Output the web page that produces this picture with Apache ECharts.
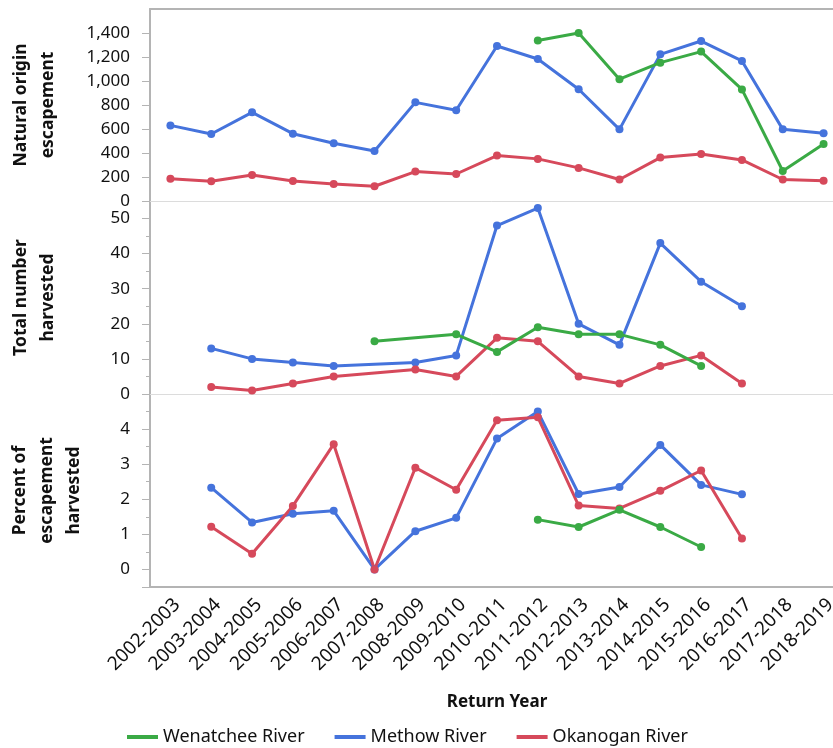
<!DOCTYPE html>
<html lang="en" style="height:100%">
<head>
    <meta charset="UTF-8">
    <title>Return Year harvest</title>
</head>
<body style="height: 100%; margin: 0; background: #fff">
<div id="container" style="width: 833px; height: 748px"></div>
<script type="text/javascript" src="https://cdn.jsdelivr.net/npm/echarts@6/dist/echarts.min.js"></script>
<script type="text/javascript">

    var years = ['2002-2003', '2003-2004', '2004-2005', '2005-2006', '2006-2007', '2007-2008',
        '2008-2009', '2009-2010', '2010-2011', '2011-2012', '2012-2013', '2013-2014',
        '2014-2015', '2015-2016', '2016-2017', '2017-2018', '2018-2019'];

    var rivers = ['Wenatchee River', 'Methow River', 'Okanogan River'];
    var colors = ['#3aaa45', '#4573dc', '#d6495b'];

    // Natural origin escapement
    var escWenatchee = [null, null, null, null, null, null, null, null, null, 1338, 1400, 1015, 1153, 1245, 930, 250, 476];
    var escMethow = [630, 558, 739, 561, 481, 417, 822, 756, 1292, 1183, 931, 597, 1222, 1333, 1167, 597, 564];
    var escOkanogan = [186, 165, 217, 167, 142, 123, 245, 225, 379, 351, 276, 179, 362, 392, 342, 179, 169];

    // Total number harvested
    var harvWenatchee = [null, null, null, null, null, 15, null, 17, 12, 19, 17, 17, 14, 8, null, null, null];
    var harvMethow = [null, 13, 10, 9, 8, null, 9, 11, 48, 53, 20, 14, 43, 32, 25, null, null];
    var harvOkanogan = [null, 2, 1, 3, 5, null, 7, 5, 16, 15, 5, 3, 8, 11, 3, null, null];

    // Percent of escapement harvested
    var pctWenatchee = [null, null, null, null, null, null, null, null, null, 1.42, 1.21, 1.70, 1.21, 0.64, null, null, null];
    var pctMethow = [null, 2.33, 1.34, 1.59, 1.67, 0, 1.09, 1.47, 3.73, 4.5, 2.15, 2.35, 3.55, 2.41, 2.14, null, null];
    var pctOkanogan = [null, 1.22, 0.45, 1.81, 3.57, 0, 2.9, 2.27, 4.25, 4.34, 1.82, 1.74, 2.24, 2.82, 0.88, null, null];

    var panelData = [
        [escWenatchee, escMethow, escOkanogan],
        [harvWenatchee, harvMethow, harvOkanogan],
        [pctWenatchee, pctMethow, pctOkanogan]
    ];

    var font = 'Noto Sans';
    var dom = document.getElementById('container');
    var myChart = echarts.init(dom, null, {renderer: 'canvas'});

    var grids = [
        {left: 150, right: -11, top: 9, height: 192, outerBoundsMode: 'none'},
        {left: 150, right: -11, top: 201, height: 193, outerBoundsMode: 'none'},
        {left: 150, right: -11, top: 394, height: 193, outerBoundsMode: 'none'}
    ];

    var xAxes = [];
    for (var g = 0; g < 3; g++) {
        xAxes.push({
            type: 'category',
            gridIndex: g,
            data: years,
            boundaryGap: true,
            axisTick: {show: false},
            axisLabel: {
                show: g === 2, rotate: 45, fontSize: 19, color: '#111', fontFamily: font,
                margin: 8, verticalAlign: 'top'
            },
            axisLine: {
                show: true,
                onZero: false,
                lineStyle: {color: g === 2 ? '#b4b4b4' : '#dcdcdc', width: g === 2 ? 2 : 1}
            },
            name: g === 2 ? 'Return Year' : '',
            nameLocation: 'middle',
            nameGap: 107,
            nameTextStyle: {fontSize: 17, fontWeight: 'bold', color: '#111', fontFamily: font}
        });
    }
    // top border of the first panel
    xAxes.push({
        type: 'category',
        gridIndex: 0,
        position: 'top',
        data: years,
        axisTick: {show: false},
        axisLabel: {show: false},
        axisLine: {show: true, onZero: false, lineStyle: {color: '#b4b4b4', width: 2}}
    });

    var yBase = function (g, name, gap) {
        return {
            type: 'value',
            gridIndex: g,
            name: name,
            nameLocation: 'middle',
            nameRotate: 90,
            nameGap: gap,
            nameTextStyle: {fontSize: 17.5, fontWeight: 'bold', color: '#111', fontFamily: font, lineHeight: 27},
            axisLine: {show: true, lineStyle: {color: '#b4b4b4', width: 2}},
            axisTick: {show: true, length: 8, lineStyle: {color: '#b4b4b4'}},
            axisLabel: {fontSize: 17, color: '#111', fontFamily: font, margin: 20, showMaxLabel: false},
            splitLine: {show: false}
        };
    };

    var y1 = yBase(0, 'Natural origin\nescapement', 88);
    y1.min = 0;
    y1.max = 1600;
    y1.interval = 200;
    y1.axisLabel.formatter = function (v) { return v.toLocaleString('en-US'); };

    var y2 = yBase(1, 'Total number\nharvested', 88);
    y2.min = 0;
    y2.max = 55;
    y2.interval = 10;
    y2.minorTick = {show: true, splitNumber: 2, length: 4, lineStyle: {color: '#b4b4b4'}};

    var y3 = yBase(2, 'Percent of\nescapement\nharvested', 62);
    y3.min = -0.5;
    y3.max = 5;
    y3.splitNumber = 5;
    y3.axisLabel.showMinLabel = false;
    y3.minorTick = {show: true, splitNumber: 2, length: 4, lineStyle: {color: '#b4b4b4'}};

    var series = [];
    for (var p = 0; p < 3; p++) {
        for (var r = 0; r < 3; r++) {
            series.push({
                name: rivers[r],
                type: 'line',
                xAxisIndex: p,
                yAxisIndex: p,
                data: panelData[p][r],
                connectNulls: true,
                symbol: 'circle',
                symbolSize: 8,
                lineStyle: {width: 3, color: colors[r]},
                itemStyle: {color: colors[r]},
                emphasis: {disabled: true},
                z: r === 0 ? 3 : 2
            });
        }
    }

    var option = {
        backgroundColor: '#fff',
        animation: false,
        textStyle: {fontFamily: font},
        grid: grids,
        xAxis: xAxes,
        yAxis: [y1, y2, y3],
        legend: {
            data: rivers,
            left: 122,
            top: 723,
            icon: 'rect',
            itemWidth: 31,
            itemHeight: 4,
            itemGap: 30,
            textStyle: {fontSize: 18, color: '#111', fontFamily: font}
        },
        series: series
    };

    myChart.setOption(option);

</script>
</body>
</html>
